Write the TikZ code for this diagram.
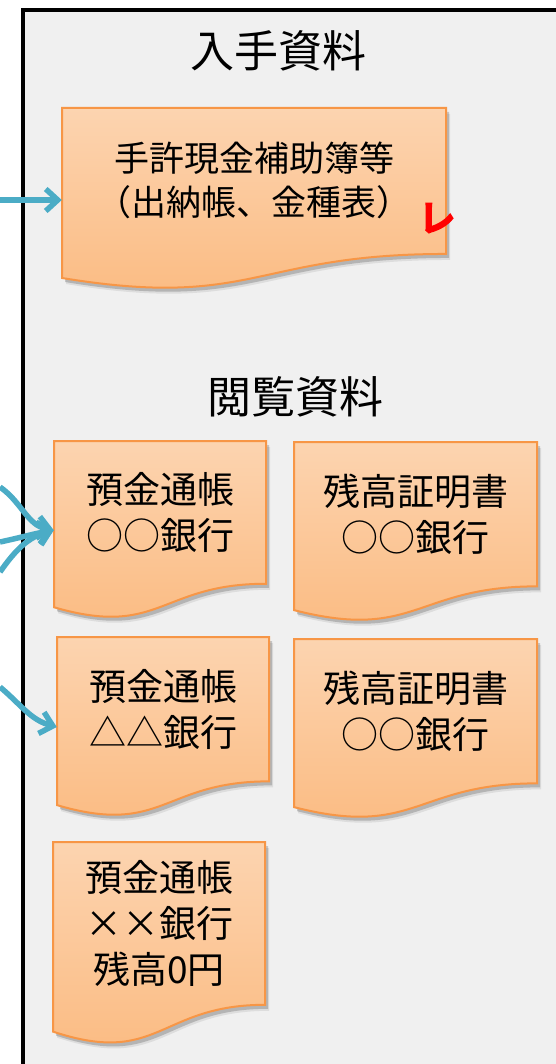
\documentclass[tikz,border=0pt]{standalone}
\usepackage{fontspec}
\setmainfont{Noto Sans CJK JP}
\newfontfamily\chkfont[FakeBold=9]{Noto Sans CJK JP}
\usetikzlibrary{arrows.meta,calc}
\definecolor{panelbg}{RGB}{240,240,240}
\definecolor{doctop}{RGB}{252,212,176}
\definecolor{docbot}{RGB}{251,186,128}
\definecolor{docline}{RGB}{247,150,70}
\definecolor{arrowc}{RGB}{75,172,198}
\definecolor{checkred}{RGB}{255,0,0}
\tikzset{
  doctext/.style={inner sep=0pt, align=center, font=\fontsize{37}{46}\selectfont},
  titletext/.style={inner sep=0pt, font=\fontsize{44}{50}\selectfont},
  arr/.style={draw=arrowc, line width=5.5pt, -{Straight Barb[length=12pt,width=22pt]}},
  docshadow/.style={fill=black, opacity=0.18},
  docfill/.style={top color=doctop, bottom color=docbot, draw=docline, line width=2pt},
}
% x, y, w, h
\newcommand\docpath[4]{(#1,#2) -- ({#1+#3},#2) -- ({#1+#3},{#2+0.802*#4})
  .. controls ({#1+0.5*#3},{#2+0.802*#4}) and ({#1+0.5*#3},{#2+1.1075*#4}) .. (#1,{#2+0.934*#4}) -- cycle}
\newcommand\docbox[7]{%
  \path[docshadow] \docpath{#2+3}{#3+4}{#4}{#5};
  \path[docshadow,opacity=0.08] \docpath{#2+4}{#3+6}{#4}{#5};
  \shade[docfill] \docpath{#2}{#3}{#4}{#5};
  \node[doctext,minimum width={#4*1pt},#7] (#1) at ({#2+0.5*#4},{#3+0.4*#5}) {#6};
}
\begin{document}
\begin{tikzpicture}[x=1pt,y=-1pt]
\useasboundingbox (0,0) rectangle (556,1064);
\clip (0,0) rectangle (556,1064);
% panel
\fill[panelbg] (23,10) rectangle (600,1100);
\draw[line width=4pt] (23,1100) -- (23,10) -- (600,10);
% titles
\node[titletext] (t1) at (278,51) {入手資料};
\node[titletext] (t2) at (295,397) {閲覧資料};
% documents
\docbox{A}{62}{108}{384}{182}{手許現金補助簿等\\（出納帳、金種表）}{font=\fontsize{35}{44}\selectfont}
\docbox{B1}{54}{441}{212}{178}{預金通帳\\○○銀行}{}
\docbox{B2}{294}{442}{243}{180}{残高証明書\\○○銀行}{}
\docbox{B3}{57}{637}{212}{180}{預金通帳\\△△銀行}{}
\docbox{B4}{294}{639}{243}{180}{残高証明書\\○○銀行}{}
\docbox{B5}{53}{842}{212}{203}{預金通帳\\××銀行\\残高0円}{}
% check mark
\node[inner sep=0pt, text=checkred, font=\chkfont\fontsize{36}{36}\selectfont] (chk) at (437,218) {レ};
% arrows
\coordinate (a0) at (0,200);
\coordinate (tA) at ($(A.west)+(0,19)$);
\draw[arr] (a0) -- (a0 -| tA);
\coordinate (b1) at (0,487);
\coordinate (b2) at (0,542);
\coordinate (b3) at (0,572);
\coordinate (tB1) at ($(B1.west)+(0,18)$);
\draw[arr] (b1) to[out=-35,in=170] (tB1);
\draw[arr] (b2) to[out=12,in=190] (tB1);
\draw[arr] (b3) to[out=55,in=195] (tB1);
\coordinate (c1) at (0,687);
\coordinate (tB3) at ($(B3.west)+(0,18)$);
\draw[arr] (c1) to[out=-40,in=165] (tB3);
\end{tikzpicture}
\end{document}
